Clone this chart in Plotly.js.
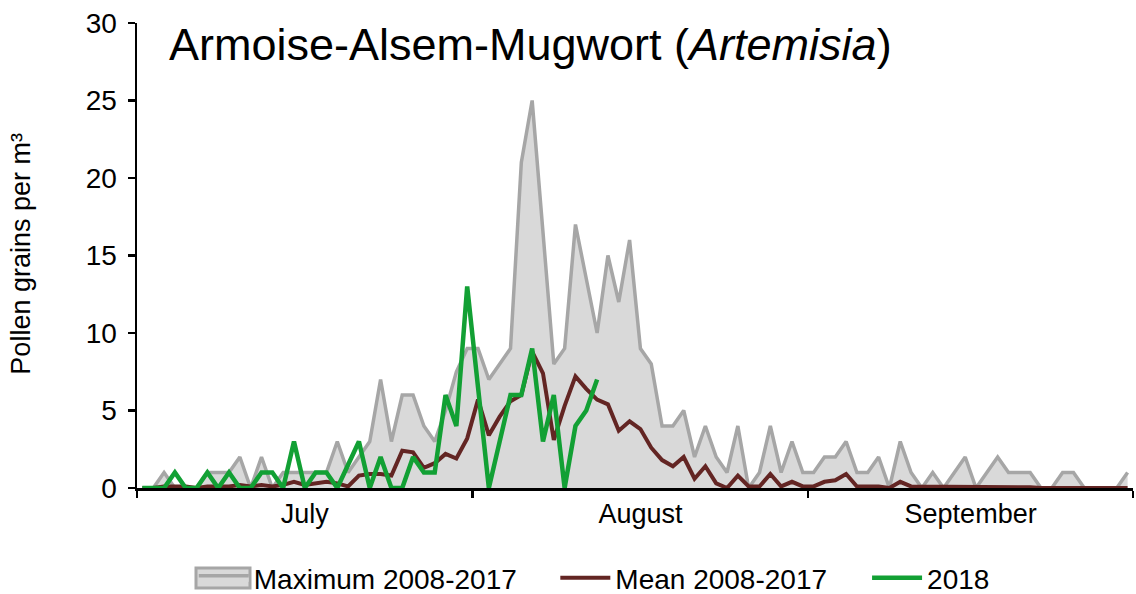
<!DOCTYPE html>
<html>
<head>
<meta charset="utf-8">
<script src="https://cdn.plot.ly/plotly-3.0.1.min.js"></script>
<style>html,body{margin:0;padding:0;background:#fff;}#chart{width:1136px;height:594px;}</style>
</head>
<body>
<div id="chart"></div>
<script>
// Daily values from 1 July to 30 September
const startDate = '2018-07-01 12:00';
const months = ['July', 'August', 'September'];

const maxValues = [
  0, 0, 1, 0, 0, 0, 1, 1, 1, 2, 0, 2, 0, 1, 1, 1, 1, 1, 3, 1,
  2, 3, 7, 3, 6, 6, 4, 3, 5, 7.5, 9, 9, 7, 8, 9, 21, 25, 16.5, 8, 9,
  17, 13.5, 10, 15, 12, 16, 9, 8, 4, 4, 5, 2, 4, 2, 1, 4, 0, 1, 4, 1,
  3, 1, 1, 2, 2, 3, 1, 1, 2, 0, 3, 1, 0, 1, 0, 1, 2, 0, 1, 2,
  1, 1, 1, 0, 0, 1, 1, 0, 0, 0, 0, 1
];

const meanValues = [
  0, 0, 0.1, 0.1, 0.1, 0, 0.1, 0.1, 0.1, 0.2, 0.1, 0.2, 0.1, 0.2, 0.4, 0.2, 0.3, 0.4, 0.3, 0.1,
  0.8, 0.9, 0.9, 0.8, 2.4, 2.3, 1.3, 1.6, 2.2, 1.9, 3.2, 5.7, 3.4, 4.6, 5.6, 6.0, 8.8, 7.4, 3.1, 5.3,
  7.2, 6.4, 5.7, 5.4, 3.7, 4.3, 3.8, 2.6, 1.8, 1.4, 2.0, 0.6, 1.4, 0.3, 0, 0.8, 0.1, 0.1, 0.9, 0.1,
  0.4, 0.1, 0.1, 0.4, 0.5, 0.9, 0.1, 0.1, 0.1, 0, 0.4, 0.1, 0.1, 0.1, 0.05, 0.1, 0.1, 0.05, 0.05, 0.1,
  0.05, 0.05, 0.05, 0, 0, 0.05, 0, 0, 0, 0, 0, 0
];

const values2018 = [
  0, 0, 0, 1, 0, 0, 1, 0, 1, 0, 0, 1, 1, 0, 3, 0, 1, 1, 0, 1.5,
  3, 0, 2, 0, 0, 2, 1, 1, 6, 4, 13, 6.5, 0, 3, 6, 6, 9, 3, 6, 0,
  4, 5, 7
];

const seriesNames = ['Maximum 2008-2017', 'Mean 2008-2017', '2018'];
const titleText = 'Armoise-Alsem-Mugwort (<i>Artemisia</i>)';
const yTitle = 'Pollen grains per m³';

const DAY = 86400000;
const FONT = 'Liberation Sans, Arial, sans-serif';

const traces = [
  {
    type: 'scatter', mode: 'lines', name: seriesNames[0],
    x0: startDate, dx: DAY, y: maxValues,
    fill: 'tozeroy', fillcolor: '#d9d9d9',
    line: {color: '#a6a6a6', width: 3.5},
    legend: 'legend'
  },
  {
    type: 'scatter', mode: 'lines', name: seriesNames[1],
    x0: startDate, dx: DAY, y: meanValues,
    line: {color: '#632523', width: 4},
    legend: 'legend2'
  },
  {
    type: 'scatter', mode: 'lines', name: seriesNames[2],
    x0: startDate, dx: DAY, y: values2018,
    line: {color: '#12a034', width: 4.5},
    legend: 'legend3'
  }
];

const legendBase = {
  orientation: 'h', yanchor: 'middle', xanchor: 'left',
  yref: 'container', y: (594 - 578) / 594,
  font: {family: FONT, size: 28, color: '#000'},
  bgcolor: 'rgba(0,0,0,0)', borderwidth: 0, itemwidth: 50
};

const layout = {
  width: 1136, height: 594,
  margin: {l: 137, r: 3, t: 23, b: 106},
  paper_bgcolor: '#fff', plot_bgcolor: '#fff',
  font: {family: FONT, color: '#000'},
  showlegend: true,
  xaxis: {
    type: 'date',
    range: ['2018-07-01 00:00', '2018-10-01 00:00'],
    tick0: '2018-07-01', dtick: 'M1', tickformat: '%B',
    ticklabelmode: 'period',
    ticks: 'outside', ticklen: 7, tickwidth: 2.5, tickcolor: '#000',
    showline: true, linecolor: '#000', linewidth: 2.5,
    showgrid: false, zeroline: false,
    tickfont: {family: FONT, size: 27, color: '#000'},
    ticklabelstandoff: -7
  },
  yaxis: {
    range: [0, 30], dtick: 5, tick0: 0,
    ticks: 'outside', ticklen: 7, tickwidth: 2.5, tickcolor: '#000',
    showline: true, linecolor: '#000', linewidth: 2.5,
    showgrid: false, zeroline: false,
    tickfont: {family: FONT, size: 28, color: '#000'},
    ticklabelstandoff: 5
  },
  legend: Object.assign({}, legendBase, {x: 0.057}),
  legend2: Object.assign({}, legendBase, {x: 0.42}),
  legend3: Object.assign({}, legendBase, {x: 0.733}),
  shapes: [
    {
      type: 'rect', xref: 'paper', yref: 'paper', layer: 'above',
      x0: (196 - 137) / 996, x1: (250 - 137) / 996,
      y0: -(568 - 488) / 465, y1: -(588 - 488) / 465,
      fillcolor: '#d9d9d9', line: {color: '#a6a6a6', width: 3}
    }
  ],
  annotations: [
    {
      xref: 'paper', yref: 'paper', x: 0.03, y: 1.012, xanchor: 'left', yanchor: 'top',
      text: titleText, showarrow: false,
      font: {family: FONT, size: 45, color: '#000'}
    },
    {
      xref: 'paper', yref: 'paper', x: -0.116, y: 0.505, xanchor: 'center', yanchor: 'middle',
      text: yTitle, textangle: -90, showarrow: false,
      font: {family: FONT, size: 27, color: '#000'}
    }
  ]
};

Plotly.newPlot('chart', traces, layout, {displayModeBar: false, staticPlot: true});
</script>
</body>
</html>
